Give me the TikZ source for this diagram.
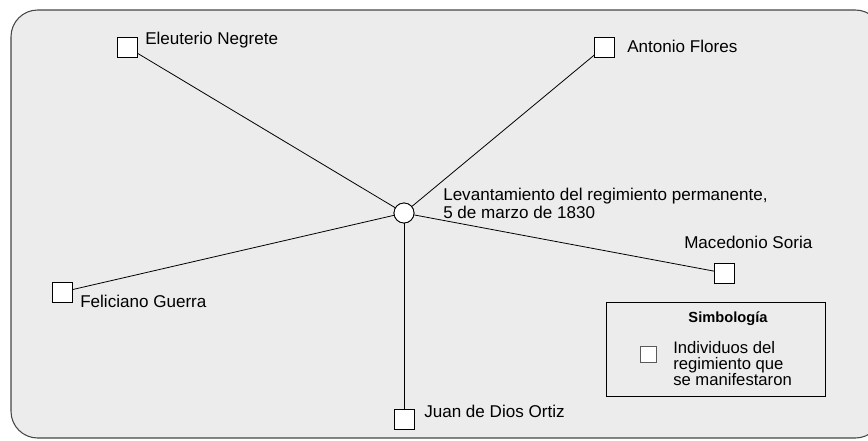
\documentclass[tikz,border=0pt]{standalone}
\usepackage{fontspec}
\setmainfont{Liberation Sans}
\begin{document}
\begin{tikzpicture}[x=0.75pt,y=-0.75pt,
  person/.style={draw=black,fill=white,line width=0.6pt,minimum size=15pt,inner sep=0pt,outer sep=0pt},
  hub/.style={circle,draw=black,fill=white,line width=0.6pt,minimum size=15pt,inner sep=0pt},
  lbl/.style={font=\fontsize{12.8}{13.5}\selectfont,inner sep=0pt,anchor=west},
  link/.style={line width=0.6pt}]
\useasboundingbox (0,0) rectangle (868,440);
\begin{scope}
\clip (0,0) rectangle (868,440);
\draw[fill={rgb,255:red,236;green,236;blue,236},draw={rgb,255:red,70;green,70;blue,70},line width=0.8pt,rounded corners=20pt] (11,10) rectangle (882,438);
\end{scope}
% nodes
\node[hub] (c) at (404,213) {};
\node[person] (en) at (127,47) {};
\node[person] (af) at (604,47) {};
\node[person] (ms) at (724,273) {};
\node[person] (fg) at (62,292) {};
\node[person] (jo) at (404,419) {};
% connectors
\draw[link] (c) -- (en);
\draw[link] (c) -- (af);
\draw[link] (c) -- (ms);
\draw[link] (c) -- (fg);
\draw[link] (c) -- (jo);
% redraw nodes on top
\node[hub] at (404,213) {};
\node[person] at (127,47) {};
\node[person] at (604,47) {};
\node[person] at (724,273) {};
\node[person] at (62,292) {};
\node[person] at (404,419) {};
% labels
\node[lbl] (ten) at (145,40) {Eleuterio Negrete};
\node[lbl] (taf) at (627,46) {Antonio Flores};
\node[lbl] (tms) at (684,242) {Macedonio Soria};
\node[lbl] (tfg) at (80,301) {Feliciano Guerra};
\node[lbl] (tjo) at (424,411) {Juan de Dios Ortiz};
\node[lbl,align=left] (tc) at (443,203) {Levantamiento del regimiento permanente,\\5 de marzo de 1830};
% legend
\node[draw=black,line width=0.6pt,minimum width=164pt,inner sep=0pt,anchor=north west,minimum height=70.5pt] (leg) at (606,302) {};
\node[font=\bfseries\fontsize{11}{12}\selectfont,inner sep=0pt] (legt) at (728,319) {Simbología};
\node[draw={rgb,255:red,90;green,90;blue,90},fill=white,line width=0.7pt,minimum size=12pt,inner sep=0pt] (legsq) at (648,354) {};
\node[lbl,align=left,anchor=north west,font=\fontsize{12.5}{12}\selectfont] (legtx) at (673,341) {Individuos del\\regimiento que\\se manifestaron};
\end{tikzpicture}
\end{document}
